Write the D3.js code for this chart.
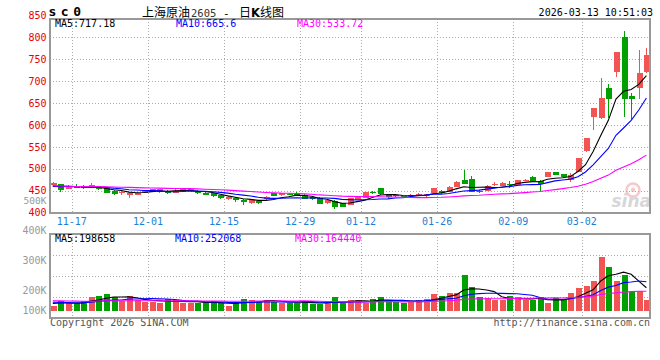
<!DOCTYPE html>
<html><head><meta charset="utf-8">
<script src="https://cdn.jsdelivr.net/npm/d3@7/dist/d3.min.js"></script>
<style>body{margin:0;background:#fff}svg{display:block}</style>
</head><body><svg id="c" width="660" height="360"></svg>
<script>
// ---------- data ----------
const dates = ["11-13","11-14","11-17","11-18","11-19","11-20","11-21","11-24","11-25","11-26","11-27","11-28",
"12-01","12-02","12-03","12-04","12-05","12-08","12-09","12-10","12-11","12-12","12-15","12-16","12-17","12-18","12-19",
"12-22","12-23","12-24","12-25","12-26","12-29","12-30","12-31","01-05","01-06","01-07","01-08","01-09",
"01-12","01-13","01-14","01-15","01-16","01-19","01-20","01-21","01-22","01-23","01-26","01-27","01-28","01-29","01-30",
"02-02","02-03","02-04","02-05","02-06","02-09","02-10","02-11","02-12","02-13","02-24","02-25","02-26","02-27",
"03-02","03-03","03-04","03-05","03-06","03-09","03-10","03-11","03-12","03-13"];
const opens = [462.4,465.5,454.8,458,461.6,460,456,457,450,444.5,440,441,446,448,447.5,449.5,446,448,450,450,446,444,440,431,434,430,421.5,427.4,430.5,444,439.6,443,442,440.5,436,434,421.4,427.4,421.4,417.6,
429,434.2,446.5,455.6,441,441,438,437,440,437.5,444.2,450.2,447.9,459.3,474.6,476.8,449.5,450.2,462.3,462,465,463.2,473.5,482,473,482,492,488,474.6,
493.5,541.5,619,616.6,683.6,721.5,801.3,666,683.6,721.5];
const highs = [470,466.5,463,464.7,463,467,457.5,458,451.5,449.5,446.5,446.5,450,455,454.5,451,453,454,456,452,447,445,441,437.5,435,431,430,428.5,437.5,445,445.5,445,447,441.5,438,435,430,428,422.5,434,
437.5,447.5,449,457,442,443,439,441.5,446,443,456.5,451,460.5,471.5,497.4,483.7,451.8,463.3,469,470,472,475.5,477,483,474,493,493.5,489,491,
525,571,639,706.4,693.4,766.5,814.3,673.6,771,776.2];
const lows = [461,447.2,453.5,455.6,455,458,451,444,441,440.5,434.3,440,445,447,446,443,445,447,449,443,439.5,435,430.5,430,425,417.6,420.5,420,429.5,437,438.5,440,437,430.5,429.5,419,419.5,407.7,412.5,416.5,
428,433,441.5,440.4,434.5,436.5,434,436,439,436.5,443,443,447,458.5,464.5,447,445.5,450,460,461,457,462,472,472,450.2,481,485,480,469,
492.5,539,589,613.6,616.6,710,618.9,613.6,659.2,717.8];
const closes = [468.5,451.8,459.4,457,456.3,464,453,446,443,447,445.7,445.5,448.5,454,453,444.2,449,453,455,444,440.5,437,434,436.5,428,424,429,422.5,436.6,438,444.2,441,440,432,431,420.5,429,414,413.7,432.8,
436.5,446.5,444,442.6,436,438.5,435.5,440,443.5,442,455.6,444.2,459.4,470.7,465.4,447.9,447,461.6,464.5,468.5,463,474.6,475,473,466.5,492,486,481,486,
524,569.5,638,662.2,659.2,765.7,659.2,658.5,719.2,759.6];
const volumes = [44000,90000,67000,67000,87000,125000,131000,149000,120000,87000,131000,93000,79000,79000,73000,105000,93000,73000,67000,73000,73000,85000,67000,44000,67000,105000,93000,87000,93000,79000,73000,73000,73000,87000,61000,61000,70000,120000,70000,93000,
93000,67000,105000,120000,93000,79000,67000,79000,93000,105000,149000,131000,161000,161000,315000,210000,120000,111000,93000,93000,131000,120000,93000,93000,120000,67000,111000,93000,158000,
199000,219000,263000,476000,386000,265000,315000,169000,178000,93000];
// sessions before the visible window (needed for the moving averages)
const priorCloses = [468,472,470,466,463,460,462,458,455,457,461,464,466,462,459,456,458,460,463,461,457,455,458,461,460,457,459,462,460];
const priorVolumes = [95000,110000,88000,102000,120000,98000,85000,92000,105000,115000,96000,88000,80000,94000,100000,86000,92000,78000,84000,90000,96000,88000,75000,82000,90000,70000,68000,76000,72000];

const priceTicks = [850,800,750,700,650,600,550,500,450,400];
const priceGrid = [800,750,700,650,600,550,500,450];
const dateTicks = ["11-17","12-01","12-15","12-29","01-12","01-26","02-09","03-02"];
const volTickLabels = ["400K","300K","200K","100K"];
const volTickPos = [230,260,290,310];          // label placement (as in the original)
const volGridY = [255,276,297];
const maNames = ["MA5","MA10","MA30"];
const maPeriods = [5,10,30];
const maColors = ["#000000","#0000ff","#ff00ff"];
const legendMain = ["717.18","665.6","533.72"];
const legendVol = ["198658","252068","164440"];
const titleParts = ["上海原油","2605","-","日","K","线图"];

// ---------- layout ----------
const L=50, R=650, PT=19, PB=213, VT=234, VB=318;
const MONO = "'DejaVu Sans Mono', monospace";
const CJK = "'Noto Sans CJK SC', sans-serif";
const svg = d3.select("#c");
const x = d3.scaleBand().domain(dates).range([49, 650.2]);
const bw = x.bandwidth();
const cx = d => x(d) + bw/2;
const yP = d3.scaleLinear().domain([400,850]).range([212.7,15.3]);
const yV = d3.scaleLinear().domain([0,675000]).range([311,234]);
const UP="#f25454", DOWN="#00a000";

function movingAvg(prior, vals, n){
  const all = prior.concat(vals), p = prior.length;
  return vals.map((_,i)=>{ const e=p+i+1; return d3.mean(all.slice(e-n,e)); });
}

// ---------- header ----------
svg.append("text").attr("x",48.5).attr("y",16).attr("font-family",MONO).attr("font-weight","bold")
  .attr("font-size",13).attr("letter-spacing",4.5).attr("fill","#000").text("sc0");
const t = svg.append("text").attr("y",16.5).attr("font-family",CJK).attr("font-size",12).attr("fill","#000");
const tx = [142,191,223,239,251,260];
titleParts.forEach((s,i)=>{
  const sp = t.append("tspan").attr("x",tx[i]).text(s);
  if(i===1){ sp.attr("font-family",MONO).attr("font-size",10.5).attr("fill","#333"); }
  if(i===2){ sp.attr("font-family",MONO).attr("font-size",11); }
  if(i===4){ sp.attr("font-weight","bold").attr("font-family","'DejaVu Sans',sans-serif").attr("font-size",11.5); }
});
svg.append("text").attr("x",653).attr("y",16).attr("text-anchor","end").attr("font-family",MONO)
  .attr("font-size",10).attr("fill","#000").text("2026-03-13 10:51:03");

// ---------- grids ----------
const grid = svg.append("g").attr("stroke","#aaa").attr("stroke-dasharray","1,2").attr("shape-rendering","crispEdges");
priceGrid.forEach(p=>grid.append("line").attr("x1",L).attr("x2",R).attr("y1",Math.round(yP(p))+0.5).attr("y2",Math.round(yP(p))+0.5));
dateTicks.forEach(d=>{
  const xx = Math.round(x(d)+bw)+0.5;
  grid.append("line").attr("x1",xx).attr("x2",xx).attr("y1",PT).attr("y2",PB);
  grid.append("line").attr("x1",xx).attr("x2",xx).attr("y1",VT).attr("y2",VB+3);
});
volGridY.forEach(yy=>grid.append("line").attr("x1",L).attr("x2",R).attr("y1",yy+0.5).attr("y2",yy+0.5));

// ---------- watermark ----------
const wm = svg.append("g").attr("opacity",0.55);
wm.append("circle").attr("cx",633).attr("cy",190).attr("r",6.5).attr("fill","none").attr("stroke","#f0a0a0").attr("stroke-width",2.5);
wm.append("circle").attr("cx",633).attr("cy",190).attr("r",2.2).attr("fill","#f0a0a0");
wm.append("text").attr("x",651).attr("y",207).attr("text-anchor","end").attr("font-family","'DejaVu Sans',sans-serif")
  .attr("font-style","italic").attr("font-weight","bold").attr("font-size",17).attr("fill","#b8b8b8").text("sina");

// ---------- axis labels ----------
const lab = svg.append("g").attr("font-family",MONO).attr("font-size",10);
priceTicks.forEach(p=>lab.append("text").attr("x",46.5).attr("y",yP(p)+3.6).attr("text-anchor","end").attr("fill","#e60000").text(p));
lab.append("text").attr("x",46.5).attr("y",204).attr("font-size",9.5).attr("text-anchor","end").attr("fill","#999").text("500K");
volTickLabels.forEach((s,i)=>lab.append("text").attr("x",46.5).attr("y",volTickPos[i]+3.6).attr("text-anchor","end").attr("fill","#999").text(s));
dateTicks.forEach(d=>lab.append("text").attr("x",x(d)+bw).attr("y",225).attr("text-anchor","middle").attr("fill","#1d7fd4").text(d));
lab.append("text").attr("x",50).attr("y",325.5).attr("fill","#555").text("Copyright 2026 SINA.COM");
lab.append("text").attr("x",650).attr("y",325.5).attr("text-anchor","end").attr("fill","#555").text("http://finance.sina.com.cn");

// ---------- candles ----------
const cg = svg.append("g").attr("shape-rendering","crispEdges");
dates.forEach((d,i)=>{
  const o=opens[i], c=closes[i], up=c>=o, col=up?UP:DOWN;
  const xm = Math.round(cx(d))+0.5;
  cg.append("line").attr("x1",xm).attr("x2",xm).attr("y1",yP(highs[i])).attr("y2",yP(lows[i])).attr("stroke",col);
  const top=yP(Math.max(o,c)), bot=yP(Math.min(o,c));
  cg.append("rect").attr("x",Math.round(cx(d))-2.5).attr("width",6).attr("y",top).attr("height",Math.max(1,bot-top)).attr("fill",col);
});
// MA lines on price
maPeriods.forEach((n,k)=>{
  const m = movingAvg(priorCloses, closes, n);
  svg.append("path").attr("fill","none").attr("stroke",maColors[k]).attr("stroke-width",1.1)
    .attr("d", d3.line().x((v,i)=>cx(dates[i])).y(v=>yP(v))(m));
});

// ---------- volume ----------
const vg = svg.append("g").attr("shape-rendering","crispEdges");
dates.forEach((d,i)=>{
  const col = closes[i]>=opens[i]?UP:DOWN;
  vg.append("rect").attr("x",Math.round(cx(d))-2.5).attr("width",6).attr("y",yV(volumes[i])).attr("height",yV(0)-yV(volumes[i])).attr("fill",col);
});
maPeriods.forEach((n,k)=>{
  const m = movingAvg(priorVolumes, volumes, n);
  svg.append("path").attr("fill","none").attr("stroke",maColors[k]).attr("stroke-width",1.1)
    .attr("d", d3.line().x((v,i)=>cx(dates[i])).y(v=>yV(v))(m));
});

// ---------- frames ----------
const fr = svg.append("g").attr("fill","none").attr("stroke","#999").attr("stroke-width",1.5).attr("shape-rendering","crispEdges");
fr.append("rect").attr("x",L).attr("y",PT).attr("width",R-L).attr("height",PB-PT);
fr.append("rect").attr("x",L).attr("y",VT).attr("width",R-L).attr("height",VB-VT);

// ---------- legends ----------
const lg = svg.append("g").attr("font-family",MONO).attr("font-size",10);
const lgX = [55,176,297], lgXV=[55,175,295];
maNames.forEach((nm,k)=>{
  lg.append("text").attr("x",lgX[k]).attr("y",27.3).attr("fill",maColors[k]).text(nm+":"+legendMain[k]);
  lg.append("text").attr("x",lgXV[k]).attr("y",241.7).attr("fill",maColors[k]).text(nm+":"+legendVol[k]);
});
</script></body></html>
